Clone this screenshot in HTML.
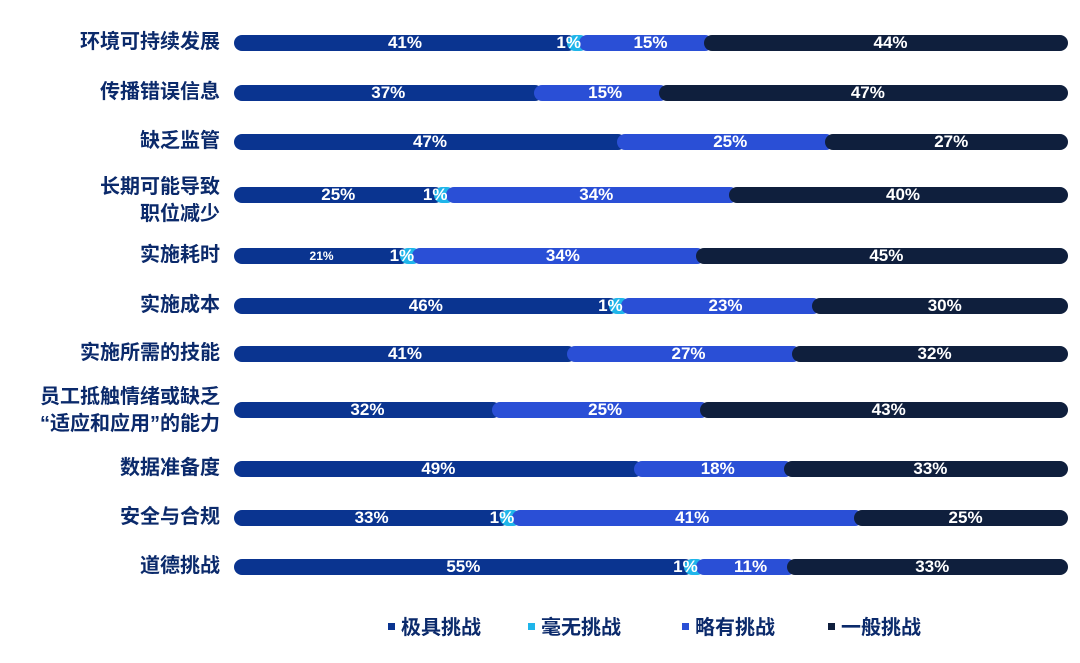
<!DOCTYPE html>
<html><head><meta charset="utf-8"><style>
body{margin:0;width:1080px;height:663px;background:#fff;position:relative;overflow:hidden;font-family:"Liberation Sans","Noto Sans CJK SC",sans-serif}
.lab{position:absolute;right:860px;text-align:right;color:#0b2a6b;font-size:20px;font-weight:bold;line-height:27px;white-space:nowrap}
.seg{position:absolute;height:16px;border-radius:8px}
.t{position:absolute;color:#fff;font-weight:bold;font-size:17px;line-height:16px;white-space:nowrap}
.leg{position:absolute;top:615px;font-size:20px;font-weight:bold;color:#0b2a6b;line-height:26px}
.leg i{display:inline-block;width:7px;height:7px;margin-right:6px;vertical-align:middle;position:relative;top:-2px}
</style></head><body>
<div id="c"></div>
<div class="leg" style="left:388px"><i style="background:#0a3490"></i>极具挑战</div>
<div class="leg" style="left:528px"><i style="background:#1fb5ea"></i>毫无挑战</div>
<div class="leg" style="left:682px"><i style="background:#2a4fd6"></i>略有挑战</div>
<div class="leg" style="left:828px"><i style="background:#0f1f3d"></i>一般挑战</div>
<script>
var rows=[
["环境可持续发展",43,[41,1,15,44]],
["传播错误信息",93,[37,0,15,47]],
["缺乏监管",142,[47,0,25,27]],
["长期可能导致<br>职位减少",195,[25,1,34,40],188],
["实施耗时",256,[21,1,34,45]],
["实施成本",306,[46,1,23,30]],
["实施所需的技能",354,[41,0,27,32]],
["员工抵触情绪或缺乏<br>“适应和应用”的能力",410,[32,0,25,43],398],
["数据准备度",469,[49,0,18,33]],
["安全与合规",518,[33,1,41,25]],
["道德挑战",567,[55,1,11,33]]];
var cols=["#0a3490","#1fb5ea","#2a4fd6","#0f1f3d"];
var h="",L=234,W=834,R=1068;
rows.forEach(function(r){
 var y=r[1],x=L,n=r[2].length;
 var ly=(r[3]||y)-14;
 h+='<div class="lab" style="top:'+ly+'px">'+r[0]+'</div>';
 var pos=[];
 r[2].forEach(function(v,i){
  if(!v){pos.push(null);return;}
  var w=W*v/100;if(i==1)w=Math.max(w,12);
  var e=(i==3)?R:x+w;
  var s=i==0?x:x-9;
  h+='<div class="seg" style="left:'+s+'px;width:'+(e-s)+'px;top:'+(y-8)+'px;background:'+cols[i]+'"></div>';
  pos.push([x,e]);x=e;
 });
 r[2].forEach(function(v,i){
  if(!v)return;
  var a=pos[i][0],b=pos[i][1];
  if(i==1){h+='<div class="t" style="right:'+(1080-a-5)+'px;top:'+(y-8)+'px">1%</div>';}
  else{var fs=(v==21)?'font-size:12px;':'';
   h+='<div class="t" style="left:'+a+'px;width:'+(b-a)+'px;text-align:center;top:'+(y-8)+'px;'+fs+'">'+v+'%</div>';}
 });
});
document.getElementById("c").innerHTML=h;
</script>
</body></html>
